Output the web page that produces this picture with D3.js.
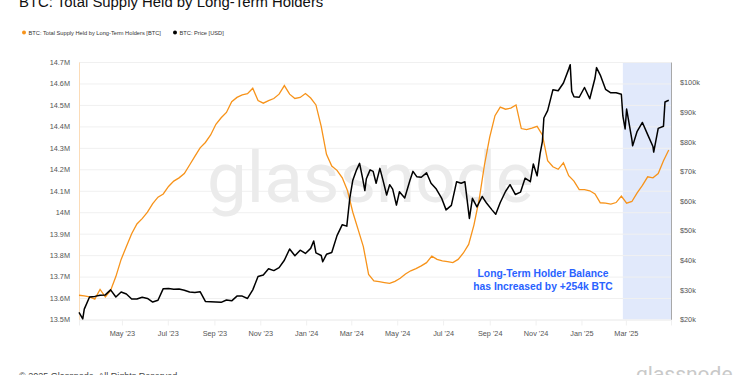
<!DOCTYPE html>
<html>
<head>
<meta charset="utf-8">
<script src="https://cdn.jsdelivr.net/npm/d3@7"></script>
<style>
  body { margin: 0; background: #fff; }
  svg { display: block; font-family: "Liberation Sans", Arial, sans-serif; }
</style>
</head>
<body>
<div id="chart"></div>
<script>
// weekly LTH supply (millions of BTC)
var lthDates = ["2023-03-05","2023-03-12","2023-03-19","2023-03-26","2023-04-02","2023-04-09","2023-04-16","2023-04-23","2023-04-30",
  "2023-05-07","2023-05-14","2023-05-21","2023-05-28","2023-06-04","2023-06-11","2023-06-18","2023-06-25",
  "2023-07-02","2023-07-09","2023-07-16","2023-07-23","2023-07-30","2023-08-06","2023-08-13","2023-08-20","2023-08-27",
  "2023-09-03","2023-09-10","2023-09-17","2023-09-24","2023-10-01","2023-10-08","2023-10-15","2023-10-22","2023-10-29",
  "2023-11-05","2023-11-12","2023-11-19","2023-11-26","2023-12-03","2023-12-10","2023-12-17","2023-12-24","2023-12-31",
  "2024-01-07","2024-01-14","2024-01-21","2024-01-28","2024-02-04","2024-02-11","2024-02-18","2024-02-25",
  "2024-03-03","2024-03-10","2024-03-17","2024-03-24","2024-03-31","2024-04-07","2024-04-14","2024-04-21","2024-04-28",
  "2024-05-05","2024-05-12","2024-05-19","2024-05-26","2024-06-02","2024-06-09","2024-06-16","2024-06-23","2024-06-30",
  "2024-07-07","2024-07-14","2024-07-21","2024-07-28","2024-08-04","2024-08-11","2024-08-18","2024-08-25",
  "2024-09-01","2024-09-08","2024-09-15","2024-09-22","2024-09-29","2024-10-06","2024-10-13","2024-10-20","2024-10-27",
  "2024-11-03","2024-11-10","2024-11-17","2024-11-24","2024-12-01","2024-12-08","2024-12-15","2024-12-22","2024-12-29",
  "2025-01-05","2025-01-12","2025-01-19","2025-01-26","2025-02-02","2025-02-09","2025-02-16","2025-02-23",
  "2025-03-02","2025-03-09","2025-03-16","2025-03-23","2025-03-30","2025-04-06","2025-04-13","2025-04-20","2025-04-27"];
var lthValues = [13.613,13.61,13.605,13.595,13.64,13.605,13.635,13.70,13.78,
  13.84,13.90,13.945,13.97,14.00,14.04,14.07,14.085,
  14.12,14.145,14.16,14.18,14.22,14.26,14.30,14.325,14.36,
  14.41,14.44,14.465,14.515,14.535,14.547,14.552,14.578,14.52,
  14.508,14.52,14.53,14.55,14.59,14.55,14.53,14.535,14.553,
  14.532,14.50,14.40,14.27,14.215,14.195,14.16,14.10,
  14.00,13.92,13.84,13.71,13.68,13.676,13.672,13.668,13.678,
  13.692,13.712,13.727,13.737,13.75,13.765,13.795,13.78,13.773,
  13.77,13.765,13.78,13.81,13.85,13.94,14.06,14.22,
  14.35,14.45,14.49,14.48,14.485,14.50,14.39,14.385,14.392,
  14.40,14.36,14.24,14.212,14.20,14.23,14.17,14.145,14.105,
  14.105,14.10,14.085,14.044,14.042,14.038,14.045,14.075,
  14.042,14.05,14.09,14.125,14.165,14.16,14.18,14.24,14.29];

// BTC price (thousands of USD)
var priceDates = ["2023-03-05","2023-03-10","2023-03-12","2023-03-19","2023-03-26","2023-04-02","2023-04-09","2023-04-16","2023-04-23","2023-04-30",
  "2023-05-07","2023-05-14","2023-05-21","2023-05-28","2023-06-04","2023-06-11","2023-06-18","2023-06-25",
  "2023-07-02","2023-07-09","2023-07-16","2023-07-23","2023-07-30","2023-08-06","2023-08-13","2023-08-20","2023-08-27",
  "2023-09-03","2023-09-10","2023-09-17","2023-09-24","2023-10-01","2023-10-08","2023-10-15","2023-10-22","2023-10-29",
  "2023-11-05","2023-11-12","2023-11-19","2023-11-26","2023-12-03","2023-12-10","2023-12-17","2023-12-24","2023-12-31",
  "2024-01-07","2024-01-11","2024-01-14","2024-01-21","2024-01-23","2024-01-28","2024-02-04","2024-02-11","2024-02-18","2024-02-24",
  "2024-02-28","2024-03-03","2024-03-08","2024-03-12","2024-03-16","2024-03-19","2024-03-21","2024-03-26","2024-03-30",
  "2024-04-03","2024-04-08","2024-04-12","2024-04-17","2024-04-21","2024-04-25","2024-04-30","2024-05-04","2024-05-11",
  "2024-05-18","2024-05-22","2024-05-27","2024-06-02","2024-06-09","2024-06-15","2024-06-22","2024-06-29",
  "2024-07-05","2024-07-12","2024-07-19","2024-07-25","2024-07-30","2024-08-05","2024-08-09","2024-08-15","2024-08-22","2024-08-28",
  "2024-09-04","2024-09-09","2024-09-15","2024-09-22","2024-09-28","2024-10-05","2024-10-12","2024-10-18","2024-10-25","2024-10-29",
  "2024-11-03","2024-11-07","2024-11-10","2024-11-12","2024-11-17","2024-11-24","2024-12-01","2024-12-08","2024-12-15","2024-12-17","2024-12-19","2024-12-22","2024-12-29",
  "2025-01-05","2025-01-12","2025-01-19","2025-01-21","2025-01-26","2025-02-02","2025-02-09","2025-02-16","2025-02-23","2025-02-25","2025-02-28",
  "2025-03-02","2025-03-09","2025-03-10","2025-03-16","2025-03-23","2025-03-30","2025-04-06","2025-04-07","2025-04-13","2025-04-20","2025-04-22","2025-04-27"];
var priceValues = [22.4,20.2,23.5,27.6,27.8,28.2,28.3,30.0,27.6,29.3,
  28.6,26.9,26.9,27.5,27.1,25.9,26.5,30.4,
  30.5,30.2,30.3,29.9,29.3,29.1,29.4,26.1,26.0,
  25.9,25.8,26.6,26.3,27.9,27.9,27.1,30.0,34.5,
  35.0,37.1,36.5,37.5,40.0,43.8,41.5,43.4,42.3,
  44.0,46.5,42.5,41.6,39.5,42.0,42.6,48.3,52.0,51.5,
  61.0,67.0,70.5,72.7,67.7,63.5,67.5,70.5,70.0,
  66.0,71.0,67.1,62.0,65.5,64.0,58.6,63.1,61.0,
  67.0,70.0,68.2,68.0,69.5,66.0,64.0,61.0,
  57.0,58.5,66.5,66.0,66.5,54.1,60.9,58.0,61.5,59.2,
  57.0,55.5,59.5,63.2,65.5,62.2,63.0,67.7,66.5,72.5,
  68.5,76.0,80.0,88.0,90.5,97.5,97.2,99.8,104.5,106.0,97.0,95.2,95.0,
  98.3,94.5,101.5,105.0,102.5,97.7,96.5,96.5,96.0,88.7,84.3,
  91.0,80.7,78.6,83.5,86.5,82.4,78.4,76.5,84.5,85.2,93.4,94.0];

var leftTicks = [13.5,13.6,13.7,13.8,13.9,14.0,14.1,14.2,14.3,14.4,14.5,14.6,14.7];
var leftLabels = ["13.5M","13.6M","13.7M","13.8M","13.9M","14M","14.1M","14.2M","14.3M","14.4M","14.5M","14.6M","14.7M"];
var rightTicks = [20,30,40,50,60,70,80,90,100];
var monthTicks = ["2023-05-01","2023-07-01","2023-09-01","2023-11-01","2024-01-01","2024-03-01",
  "2024-05-01","2024-07-01","2024-09-01","2024-11-01","2025-01-01","2025-03-01"];
var highlight = ["2025-02-25","2025-04-30"];

var parse = d3.timeParse("%Y-%m-%d");
var W = 750, H = 375;
var margin = {top:62, left:79, right:79, bottom:55.5};

var svg = d3.select("#chart").append("svg")
    .attr("width", W)
    .attr("height", H);

var x = d3.scaleTime()
    .domain([parse("2023-03-05"), parse("2025-04-30")])
    .range([margin.left, W - margin.right]);
var yL = d3.scaleLinear().domain([13.5, 14.7]).range([H - margin.bottom, margin.top]);
var yR = d3.scaleLinear().domain([20, 106.9]).range([H - margin.bottom, margin.top]);

// title + legend
svg.append("text").attr("x", 19).attr("y", 7)
  .style("font-size", "14.9px").style("fill", "#111").text("BTC: Total Supply Held by Long-Term Holders");

var legend = [{c:"#f7931a", t:"BTC: Total Supply Held by Long-Term Holders [BTC]", x:24},
              {c:"#000", t:"BTC: Price [USD]", x:175}];
var lg = svg.selectAll(".legend").data(legend).enter().append("g")
  .attr("transform", function(d){ return "translate(" + d.x + ",32.5)"; });
lg.append("circle").attr("r", 2).attr("fill", function(d){ return d.c; });
lg.append("text").attr("x", 4.5).attr("y", 2)
  .style("font-size", "5.7px").style("fill", "#333").text(function(d){ return d.t; });

// highlight band
svg.append("rect")
  .attr("x", x(parse(highlight[0])))
  .attr("y", margin.top)
  .attr("width", x(parse(highlight[1])) - x(parse(highlight[0])))
  .attr("height", H - margin.bottom - margin.top)
  .attr("fill", "#e1e9fb");

// grid lines
svg.append("g")
  .attr("transform", "translate(" + margin.left + ",0)")
  .call(d3.axisLeft(yL).tickValues(leftTicks).tickSize(-(W - margin.left - margin.right)).tickFormat(""))
  .call(function(g){ g.select(".domain").remove(); })
  .selectAll("line").attr("stroke", "#f0f0f0");

// watermark
svg.append("text").attr("x", 207).attr("y", 202)
  .style("font-family", "Roboto, sans-serif").style("font-size", "71px")
  .style("fill", "#ebebeb").text("glassnode");

// left axis
var gl = svg.append("g")
  .attr("transform", "translate(" + margin.left + ",0)")
  .call(d3.axisLeft(yL).tickValues(leftTicks).tickSize(0).tickPadding(9)
    .tickFormat(function(d, i){ return leftLabels[i]; }));
gl.select(".domain").attr("stroke", "#fbdcb8");
gl.selectAll("text").style("font-size", "7.3px").style("fill", "#555").style("font-family", "Liberation Sans, Arial");

// right axis
var gr = svg.append("g")
  .attr("transform", "translate(" + (W - margin.right) + ",0)")
  .call(d3.axisRight(yR).tickValues(rightTicks).tickSize(0).tickPadding(9)
    .tickFormat(function(d){ return "$" + d + "k"; }));
gr.select(".domain").attr("stroke", "#a8a8a8");
gr.selectAll("text").style("font-size", "7.3px").style("fill", "#555").style("font-family", "Liberation Sans, Arial");

// bottom axis
var gb = svg.append("g")
  .attr("transform", "translate(0," + (H - margin.bottom) + ")")
  .call(d3.axisBottom(x).tickValues(monthTicks.map(parse)).tickSize(6).tickPadding(5)
    .tickFormat(d3.timeFormat("%b '%y")));
gb.select(".domain").attr("stroke", "#f0f0f0");
gb.selectAll("line").attr("stroke", "#f0f0f0");
gb.selectAll("text").style("font-size", "7.3px").style("fill", "#555").style("font-family", "Liberation Sans, Arial");

// lines
var lthLine = d3.line()
  .x(function(d, i){ return x(parse(lthDates[i])); })
  .y(function(d){ return yL(d); });
svg.append("path").datum(lthValues)
  .attr("d", lthLine).attr("fill", "none")
  .attr("stroke", "#f7931a").attr("stroke-width", 1.3);

var priceLine = d3.line()
  .x(function(d, i){ return x(parse(priceDates[i])); })
  .y(function(d){ return yR(d); });
svg.append("path").datum(priceValues)
  .attr("d", priceLine).attr("fill", "none")
  .attr("stroke", "#000").attr("stroke-width", 1.5).attr("stroke-linejoin", "round");

// annotation
var ann = svg.append("text").attr("text-anchor", "middle")
  .style("font-size", "10.3px").style("font-weight", "bold").style("fill", "#2962ff");
ann.append("tspan").attr("x", 543).attr("y", 277).text("Long-Term Holder Balance");
ann.append("tspan").attr("x", 543).attr("y", 290).text("has Increased by +254k BTC");

// footer
svg.append("text").attr("x", 19).attr("y", 378.5)
  .style("font-size", "9px").style("fill", "#444").text("© 2025 Glassnode. All Rights Reserved.");
svg.append("text").attr("x", 636).attr("y", 381)
  .style("font-family", "Roboto, sans-serif").style("font-size", "21px")
  .style("fill", "#c9c9c9").text("glassnode");
</script>
</body>
</html>
